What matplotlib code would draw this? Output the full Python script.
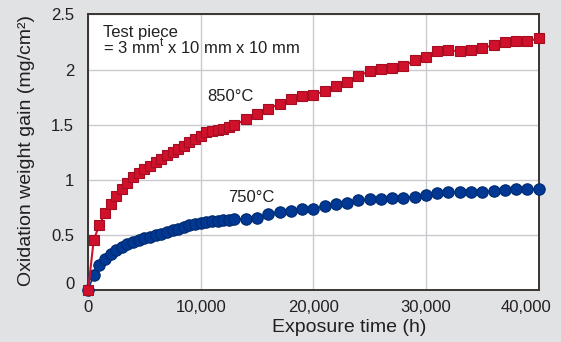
import matplotlib
matplotlib.use("Agg")
import matplotlib.pyplot as plt
import matplotlib.transforms as mtransforms

# exposure time (h)
t_850 = [0, 500, 1000, 1500, 2000, 2500, 3000, 3500, 4000, 4500, 5000, 5500,
         6000, 6500, 7000, 7500, 8000, 8500, 9000, 9500, 10000, 10500, 11000,
         11500, 12000, 12500, 13000, 14000, 15000, 16000, 17000, 18000, 19000,
         20000, 21000, 22000, 23000, 24000, 25000, 26000, 27000, 28000, 29000,
         30000, 31000, 32000, 33000, 34000, 35000, 36000, 37000, 38000, 39000,
         40000]
gain_850 = [0, 0.455, 0.594, 0.697, 0.779, 0.857, 0.921, 0.973, 1.025, 1.061,
            1.097, 1.127, 1.161, 1.191, 1.227, 1.252, 1.279, 1.312, 1.343,
            1.375, 1.400, 1.430, 1.445, 1.455, 1.466, 1.479, 1.497, 1.548,
            1.600, 1.645, 1.688, 1.730, 1.757, 1.766, 1.809, 1.848, 1.891,
            1.943, 1.985, 2.006, 2.013, 2.030, 2.085, 2.112, 2.164, 2.173,
            2.167, 2.173, 2.194, 2.221, 2.252, 2.257, 2.257, 2.282]

t_750 = list(t_850)
gain_750 = [0, 0.143, 0.227, 0.288, 0.333, 0.370, 0.394, 0.418, 0.439, 0.455,
            0.470, 0.485, 0.500, 0.515, 0.530, 0.545, 0.560, 0.575, 0.590,
            0.600, 0.609, 0.620, 0.627, 0.630, 0.636, 0.639, 0.643, 0.648,
            0.657, 0.688, 0.712, 0.721, 0.736, 0.740, 0.760, 0.780, 0.790,
            0.816, 0.824, 0.831, 0.837, 0.839, 0.848, 0.864, 0.885, 0.888,
            0.888, 0.888, 0.894, 0.900, 0.909, 0.918, 0.915, 0.921]

xticks = [0, 10000, 20000, 30000, 40000]
xtick_labels = ["0", "10,000", "20,000", "30,000", "40,000"]
yticks = [0, 0.5, 1, 1.5, 2, 2.5]
ytick_labels = ["0", "0.5", "1", "1.5", "2", "2.5"]

plt.rcParams["font.family"] = ["Liberation Sans", "DejaVu Sans"]
text_col = "#231f20"

fig = plt.figure(figsize=(5.61, 3.42), dpi=100, facecolor="#e1e2e4")
ax = fig.add_axes([0.157, 0.151, 0.803, 0.807])
ax.set_facecolor("white")

ax.plot(t_750, gain_750, "-o", color="#003893", mec="#002a6e", mew=0.8,
        ms=8.2, lw=1.2, clip_on=False, zorder=3)
ax.plot(t_850, gain_850, "-s", color="#d0112b", mec="#a50d22", mew=0.8,
        ms=7.6, lw=1.5, clip_on=False, zorder=4)

ax.set_xlim(0, 40000)
ax.set_ylim(0, 2.5)
ax.set_xticks(xticks)
ax.set_xticklabels(xtick_labels)
ax.set_yticks(yticks)
ax.set_yticklabels(ytick_labels)
ax.tick_params(length=0, labelsize=12, colors=text_col)
ax.tick_params(axis="y", pad=10)
ax.tick_params(axis="x", pad=7)

# nudge end labels like the original (keep 40,000 inside, lift y "0")
lbl = ax.get_xticklabels()[-1]
lbl.set_transform(lbl.get_transform() +
                  mtransforms.ScaledTranslation(-0.125, 0, fig.dpi_scale_trans))
lbl = ax.get_yticklabels()[0]
lbl.set_transform(lbl.get_transform() +
                  mtransforms.ScaledTranslation(0, 0.07, fig.dpi_scale_trans))

ax.grid(True, color="#c9cbd1", lw=1.0)
ax.set_axisbelow(True)
for s in ax.spines.values():
    s.set_color("#3a3432")
    s.set_linewidth(1.4)

ax.set_xlabel("Exposure time (h)", fontsize=14, color=text_col)
ax.xaxis.set_label_coords(0.579, -0.105)
ax.set_ylabel("Oxidation weight gain (mg/cm²)", fontsize=14, color=text_col)
ax.yaxis.set_label_coords(-0.118, 0.505)

ax.text(1290, 2.143, "Test piece\n" + r"= 3 mm$^{\mathregular{t}}$ x 10 mm x 10 mm",
        fontsize=12, color=text_col, va="baseline", linespacing=0.82)
ax.text(10600, 1.755, "850°C", fontsize=12, color=text_col, va="center")
ax.text(12440, 0.84, "750°C", fontsize=12, color=text_col, va="center")

fig.savefig("out.png", dpi=100, facecolor=fig.get_facecolor())
